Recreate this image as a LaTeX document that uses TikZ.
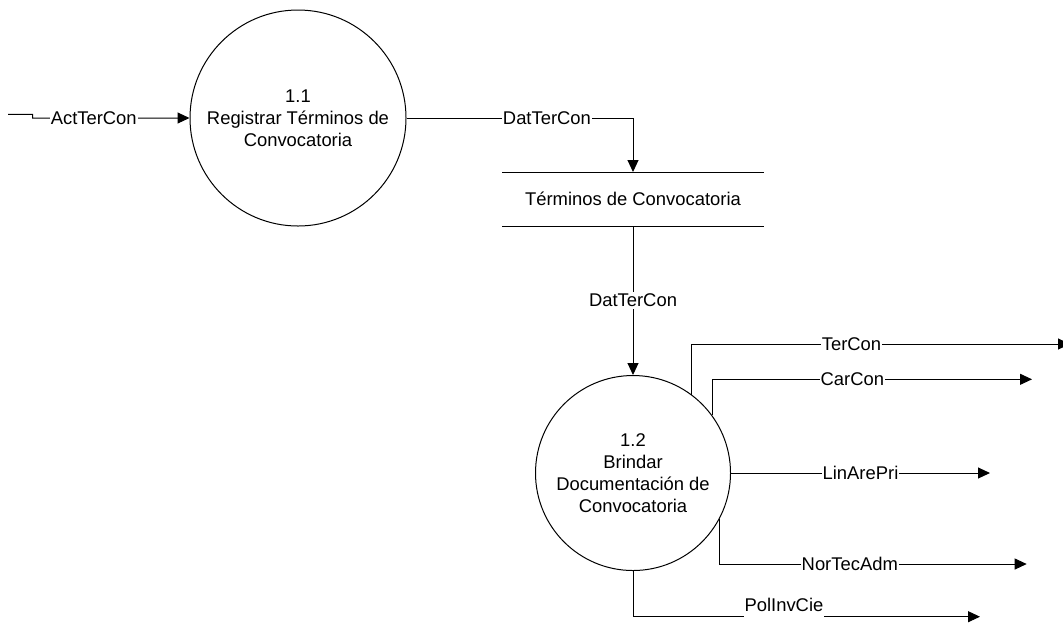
\documentclass[tikz,border=0pt]{standalone}
\usepackage{fontspec}
\setmainfont{Liberation Sans}
\usetikzlibrary{arrows.meta, positioning}

\begin{document}
\begin{tikzpicture}[x=0.5pt, y=-0.5pt, line width=0.5pt,
  font=\fontsize{9.2pt}{10.9pt}\selectfont,
  proceso/.style={circle, draw, inner sep=0pt, align=center},
  almacen/.style={minimum width=130.5pt, minimum height=26.5pt, inner sep=0pt},
  flujo/.style={-{Triangle[length=6pt, width=5.5pt]}},
  etiqueta/.style={fill=white, inner xsep=0.5pt, inner ysep=1pt}]
  \useasboundingbox (0,0) rectangle (1063,623);

  % procesos
  \node[proceso, minimum size=108pt] (p11) at (298,118) {1.1\\Registrar Términos de\\Convocatoria};
  \node[proceso, minimum size=97.5pt] (p12) at (633,473) {1.2\\Brindar\\Documentación de\\Convocatoria};

  % almacen de datos
  \node[almacen] (terminos) at (633,199) {Términos de Convocatoria};
  \draw (terminos.north west) -- (terminos.north east)
        (terminos.south west) -- (terminos.south east);

  % flujos de entrada
  \coordinate (fuente) at (8,114.3);
  \draw[flujo] (fuente) -- ++(24.5,0) -- ++(0,3.7)
    -- node[etiqueta, pos=0.39] {ActTerCon} (p11.west);
  \draw[flujo] (p11.east) -| node[etiqueta, pos=0.31] {DatTerCon} (terminos.north);
  \draw[flujo] (terminos.south) -- node[etiqueta] {DatTerCon} (p12.north);

  % flujos de salida
  \coordinate (sTerCon) at (1070,344);
  \coordinate (sCarCon) at (1032,379.3);
  \coordinate (sLinArePri) at (990,473);
  \coordinate (sNorTecAdm) at (1026.7,564);
  \coordinate (sPolInvCie) at (980,616.7);
  \foreach \ang/\dst/\lab/\p in {53/sTerCon/TerCon/0.711, 36/sCarCon/CarCon/0.719,
      0/sLinArePri/LinArePri/0.75, 332/sNorTecAdm/NorTecAdm/0.712}
    \draw[flujo] (p12.\ang) |- node[etiqueta, pos=\p] {\lab} (\dst);
  \draw[flujo] (p12.south) |- node[etiqueta, pos=0.7175, yshift=5.85pt,
    inner ysep=3.5pt, text depth=0pt] {PolInvCie} (sPolInvCie);
\end{tikzpicture}
\end{document}
